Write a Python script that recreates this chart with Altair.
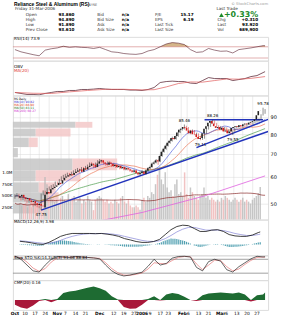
import altair as alt
import pandas as pd

FONT = "DejaVu Sans"
PW = 257
XDOM = [-1, 125.5]

# ---------------- daily price data (Oct 3 2005 .. Mar 31 2006, 125 sessions) ----------------
OPEN = [52.0, 52.5, 53.0, 52.0, 51.5, 51.8, 51.0, 50.5, 50.8, 50.0,
        49.5, 49.8, 49.2, 48.6, 53.2, 54.0, 53.6, 55.0, 55.5, 56.0,
        56.6, 57.5, 57.2, 58.5, 59.6, 60.0, 60.5, 61.0, 60.6, 61.5,
        62.0, 62.5, 63.0, 62.0, 63.5, 63.0, 64.0, 64.5, 65.5, 65.0,
        64.0, 65.5, 66.5, 67.0, 66.0, 65.5, 65.0, 66.0, 65.5, 64.5,
        65.0, 64.0, 64.5, 63.5, 64.0, 63.0, 63.5, 63.0, 62.5, 62.0,
        62.5, 61.5, 61.0, 61.5, 62.0, 61.2, 62.5, 63.5, 64.0, 65.5,
        66.0, 67.0, 66.5, 69.0, 71.0, 72.5, 74.0, 75.5, 76.5, 78.0,
        77.5, 79.0, 81.0, 82.5, 83.0, 84.0, 83.5, 82.0, 80.5, 82.0,
        80.0, 80.0, 78.5, 77.5, 78.0, 80.5, 83.0, 84.5, 86.5, 87.5,
        86.0, 84.5, 83.5, 84.0, 82.5, 83.5, 81.5, 82.0, 80.5, 81.5,
        83.5, 84.0, 84.5, 84.0, 85.0, 84.5, 85.5, 86.0, 85.5, 86.5,
        87.0, 87.5, 88.5, 91.0, 93.86]
CLOSE = [52.5, 53.0, 52.0, 51.5, 51.8, 51.0, 50.5, 50.8, 50.0, 49.5,
         49.8, 49.2, 49.0, 53.0, 54.0, 53.5, 55.0, 55.5, 56.0, 56.5,
         57.5, 57.0, 58.5, 59.5, 60.0, 60.5, 61.0, 60.5, 61.5, 62.0,
         62.5, 63.0, 62.0, 63.5, 63.0, 64.0, 64.5, 65.5, 65.0, 64.0,
         65.5, 66.5, 67.0, 66.0, 65.5, 65.0, 66.0, 65.5, 64.5, 65.0,
         64.0, 64.5, 63.5, 64.0, 63.0, 63.5, 63.0, 62.5, 62.0, 62.5,
         61.5, 61.0, 61.5, 62.0, 61.2, 62.5, 63.5, 64.0, 65.5, 66.0,
         67.0, 66.5, 69.0, 71.0, 72.5, 74.0, 75.5, 76.5, 78.0, 77.5,
         79.0, 81.0, 82.5, 83.0, 84.0, 83.5, 82.0, 80.5, 82.0, 80.0,
         80.0, 78.5, 77.5, 78.0, 80.5, 83.0, 84.5, 86.5, 87.5, 86.0,
         84.5, 83.5, 84.0, 82.5, 83.5, 81.5, 82.0, 80.5, 81.5, 83.5,
         84.0, 84.5, 84.0, 85.0, 84.5, 85.5, 86.0, 85.5, 86.5, 87.0,
         87.5, 88.5, 91.0, 93.61, 93.92]
HIGH = [53.2, 53.6, 53.4, 52.4, 52.3, 52.0, 51.4, 51.3, 51.0, 50.4,
        50.3, 50.0, 49.6, 53.5, 54.6, 54.5, 55.5, 56.1, 56.6, 57.0,
        58.0, 58.0, 59.0, 60.1, 60.7, 61.1, 61.6, 61.5, 62.0, 62.6,
        63.1, 63.6, 63.3, 64.0, 64.0, 64.5, 65.1, 66.0, 66.1, 65.4,
        66.0, 67.1, 67.6, 67.3, 66.5, 66.0, 66.5, 66.6, 65.8, 65.6,
        65.3, 65.0, 64.8, 64.6, 64.3, 64.0, 63.9, 63.4, 62.9, 63.0,
        62.8, 61.9, 62.0, 62.6, 62.3, 63.0, 64.0, 64.6, 66.0, 66.6,
        67.6, 67.4, 69.6, 71.6, 73.1, 74.7, 76.1, 77.2, 78.7, 78.6,
        79.6, 81.6, 83.1, 83.8, 85.46, 84.7, 84.0, 82.4, 82.6, 82.3,
        80.8, 80.4, 79.0, 78.6, 81.0, 83.5, 85.0, 87.2, 88.26, 87.9,
        86.4, 85.0, 84.6, 84.3, 84.0, 83.8, 82.6, 82.3, 82.0, 84.0,
        84.6, 85.1, 85.0, 85.6, 85.5, 86.0, 86.6, 86.5, 87.0, 87.6,
        88.1, 89.0, 91.6, 95.78, 94.89]
LOW = [51.6, 52.2, 51.7, 51.0, 51.1, 50.7, 50.0, 50.1, 49.6, 49.0,
       49.1, 48.7, 48.4, 47.75, 52.8, 53.0, 53.3, 54.6, 55.0, 55.6,
       56.2, 56.5, 56.9, 58.2, 59.1, 59.6, 60.1, 60.0, 60.3, 61.1,
       61.6, 62.1, 61.6, 61.8, 62.6, 62.7, 63.6, 64.2, 64.6, 63.6,
       63.7, 65.2, 66.1, 65.6, 65.0, 64.6, 64.7, 65.0, 64.0, 64.1,
       63.6, 63.6, 63.0, 63.1, 62.6, 62.6, 62.5, 62.0, 61.6, 61.6,
       61.1, 60.5, 60.6, 61.1, 60.8, 60.9, 62.1, 63.1, 63.7, 65.1,
       65.6, 65.0, 66.2, 68.6, 70.6, 72.0, 73.6, 75.0, 76.1, 77.0,
       77.1, 78.6, 80.6, 82.0, 82.6, 83.0, 81.5, 80.0, 80.1, 79.5,
       79.3, 78.0, 76.8, 77.0, 77.6, 80.2, 82.6, 84.1, 86.0, 85.5,
       84.0, 83.0, 83.1, 82.0, 82.1, 81.0, 81.0, 80.0, 79.55, 81.2,
       83.1, 83.6, 83.6, 83.7, 84.0, 84.2, 85.1, 85.0, 85.2, 86.1,
       86.6, 87.1, 88.2, 90.8, 91.89]
VOLUME = [350, 300, 330, 360, 260, 300, 260, 330, 350, 380,
          300, 350, 420, 900, 750, 500, 460, 420, 380, 420,
          340, 460, 500, 420, 380, 540, 420, 460, 500, 380,
          420, 460, 340, 420, 380, 500, 420, 380, 200, 420,
          460, 500, 460, 420, 380, 420, 340, 380, 340, 420,
          380, 340, 460, 500, 380, 340, 420, 300, 260, 260,
          300, 260, 210, 420, 460, 380, 500, 460, 580, 540,
          750, 950, 1100, 850, 750, 1000, 680, 580, 620, 500,
          750, 850, 540, 580, 500, 1000, 540, 460, 680, 580,
          500, 460, 420, 500, 540, 680, 460, 500, 420, 460,
          420, 380, 420, 380, 460, 420, 500, 460, 420, 380,
          420, 460, 420, 380, 420, 460, 380, 420, 380, 340,
          420, 460, 500, 560, 690]

MA200_IDX = [0, 30, 63, 94, 124]
MA200 = [40.0, 43.0, 47.0, 52.6, 60.27]

# volume-by-price zones
VBP_LO = [83.6, 78.8, 73.3, 68.4, 62.6, 58.1, 53.9, 50.3, 46.7]
VBP_HI = [87.0, 83.1, 78.2, 72.8, 67.8, 62.6, 57.7, 53.9, 50.0]
VBP_UP = [63, 23, 16, 5, 60, 23, 26, 33, 18]
VBP_DN = [17, 35, 9, 0, 45, 45, 17, 13, 10]

# trend lines (session index, price)
TL_I = [[13, 125.5], [90, 125.5], [94, 123]]
TL_P = [[47.75, 81.5], [73.0, 88.5], [88.26, 88.26]]

# price annotations
ANN_I = [13, 84, 98, 92, 108, 123]
ANN_P = [47.75, 85.46, 88.26, 76.8, 79.55, 95.78]
ANN_T = ["47.75", "85.46", "88.26", "79.11", "79.55", "95.78"]
ANN_POS = ["below", "above", "above", "below", "below", "above"]

# ---------------- indicators (every third session) ----------------
IDX3 = list(range(0, 125, 3)) + [124]
RSI = [60, 52, 47, 42, 38, 58, 63, 66, 72, 68, 70, 68, 67, 64, 68, 60, 52, 50, 46, 44,
       43, 46, 55, 60, 70, 80, 85, 83, 78, 60, 50, 52, 64, 58, 54, 55, 48, 60, 63, 66,
       70, 74, 73.9]
OBV = [0.0, -0.5, -1.0, -1.0, -1.2, -0.5, 0.0, 0.5, 0.5, 1.0, 1.0, 1.5, 1.5, 1.7, 2.0,
       1.7, 1.5, 1.5, 1.5, 1.2, 1.2, 1.0, 1.5, 2.5, 5.0, 5.5, 5.7, 5.5, 5.5, 4.7, 4.5,
       6.0, 7.5, 7.0, 7.0, 7.0, 6.0, 6.5, 7.0, 8.0, 8.5, 10.0, 10.5]
OBV_MA_IDX = [0, 9, 18, 27, 36, 45, 54, 63, 69, 75, 81, 87, 93, 99, 105, 111, 117, 124]
OBV_MA = [0.0, -0.4, -0.5, 0.3, 1.0, 1.6, 1.6, 1.3, 1.4, 2.8, 4.5, 5.3, 5.2, 6.0, 6.8,
          6.7, 7.1, 8.0]
MACD = [0.7, 0.55, 0.35, 0.1, 0.0, 0.45, 1.1, 1.8, 2.2, 2.45, 2.45, 2.45, 2.45, 2.4,
        2.45, 2.3, 2.1, 1.8, 1.3, 1.0, 0.65, 0.45, 0.45, 0.65, 1.1, 2.2, 3.3, 4.0, 4.3,
        4.2, 3.55, 2.9, 2.9, 3.2, 3.3, 2.9, 2.2, 1.9, 1.8, 1.8, 2.1, 2.65, 2.8]
MACD_SIG = [0.8, 0.7, 0.55, 0.4, 0.25, 0.25, 0.5, 0.9, 1.4, 1.8, 2.1, 2.3, 2.4, 2.4,
            2.45, 2.4, 2.3, 2.1, 1.8, 1.5, 1.2, 0.9, 0.7, 0.65, 0.8, 1.3, 2.0, 2.8, 3.4,
            3.8, 3.8, 3.5, 3.2, 3.2, 3.2, 3.1, 2.8, 2.45, 2.2, 2.0, 2.0, 2.2, 2.3]
# daily MACD histogram
MACD_HIST = [-0.10, -0.12, -0.13, -0.15, -0.17, -0.18, -0.20, -0.24, -0.27, -0.30,
             -0.30, -0.28, -0.25, -0.10, 0.05, 0.20, 0.35, 0.48, 0.60, 0.70,
             0.80, 0.90, 0.88, 0.85, 0.80, 0.75, 0.70, 0.65, 0.55, 0.45,
             0.35, 0.28, 0.20, 0.15, 0.10, 0.07, 0.05, 0.03, 0.01, 0.00,
             0.02, 0.03, 0.00, -0.03, -0.06, -0.10, -0.13, -0.17, -0.20, -0.23,
             -0.27, -0.30, -0.37, -0.44, -0.50, -0.50, -0.50, -0.50, -0.52, -0.54,
             -0.55, -0.52, -0.48, -0.45, -0.38, -0.32, -0.25, -0.17, -0.08, 0.00,
             0.10, 0.20, 0.30, 0.50, 0.70, 0.90, 1.05, 1.18, 1.30, 1.28,
             1.25, 1.20, 1.10, 1.00, 0.90, 0.75, 0.58, 0.40, 0.18, -0.03,
             -0.25, -0.38, -0.50, -0.60, -0.50, -0.40, -0.30, -0.20, -0.10, 0.00,
             0.04, 0.07, 0.10, 0.00, -0.10, -0.20, -0.35, -0.48, -0.60, -0.58,
             -0.56, -0.55, -0.50, -0.45, -0.40, -0.33, -0.27, -0.20, -0.10, 0.00,
             0.10, 0.22, 0.34, 0.45, 0.50]
STO_K = [94, 80, 55, 30, 25, 55, 80, 92, 90, 88, 92, 90, 88, 86, 82, 55, 30, 15, 8, 12,
         18, 24, 50, 80, 55, 62, 85, 92, 93, 90, 45, 30, 70, 80, 72, 35, 25, 48, 65, 82,
         93, 90, 91.06]
STO_D = [92, 86, 68, 42, 28, 40, 68, 86, 91, 89, 90, 90, 88, 86, 84, 65, 40, 22, 12, 11,
         15, 21, 38, 65, 62, 60, 75, 88, 92, 91, 60, 35, 55, 76, 75, 48, 30, 38, 58, 75,
         88, 90, 88.84]
CMF = [-0.10, -0.16, -0.19, -0.12, -0.02, 0.02, -0.05, 0.02, 0.15, 0.18, 0.20, 0.23,
       0.26, 0.29, 0.25, 0.20, 0.08, 0.01, -0.15, -0.19, -0.18, -0.10, 0.02, 0.08, -0.01,
       0.12, 0.15, 0.13, 0.07, 0.0, -0.02, 0.10, 0.14, 0.15, 0.16, 0.15, 0.14, 0.16, 0.12,
       -0.03, 0.10, 0.12, 0.16]

# ---------------- axis ticks ----------------
GRID_IDX = [0, 5, 10, 15, 21, 25, 30, 35, 42, 49, 54, 59, 63, 67, 72, 76, 83, 86, 91,
            96, 102, 105, 110, 115, 120]
GRID_LAB = ["Oct", "10", "17", "24", "Nov", "7", "14", "21", "Dec", "12", "19", "27",
            "2006", "9", "17", "23", "Feb", "6", "13", "21", "Mar", "6", "13", "20", "27"]
MONTH_IDX = [0, 21, 42, 63, 83, 102]

GRIDC = "#d9d9d9"

price = pd.DataFrame({"i": list(range(len(CLOSE))), "o": OPEN, "c": CLOSE, "h": HIGH,
                      "l": LOW, "v": VOLUME})


def xs():
    return alt.Scale(domain=XDOM, nice=False, zero=False)


def xgrid():
    return alt.Axis(values=GRID_IDX, grid=True, gridColor=GRIDC, gridWidth=0.5,
                    labels=False, ticks=False, domain=False, title=None)


def yright(values, labexpr=None):
    kw = dict(orient="right", values=values, grid=True, gridColor=GRIDC, gridWidth=0.5,
              ticks=False, domain=False, title=None, labelFont=FONT, labelFontSize=5,
              labelPadding=2, labelColor="#000", minExtent=12, maxExtent=12)
    if labexpr:
        kw["labelExpr"] = labexpr
    return alt.Axis(**kw)


def txt(s, x, y, size=4.6, color="#000", weight="normal", align="left", font=FONT):
    return alt.Chart(pd.DataFrame({"t": [s]})).mark_text(
        align=align, baseline="middle", font=font, fontSize=size, color=color,
        fontWeight=weight).encode(x=alt.value(x), y=alt.value(y), text="t:N")


# ---------------- header ----------------
OX = 11  # chart x of plot origin
hdr_layers = [
    txt("Reliance Steel & Aluminum (RS)", 12 - OX, 3, 5.0, weight="bold",
        font="Liberation Sans"),
    txt("NYSE", 87 - OX, 3.5, 3.4, "#555"),
    txt("Friday 31-Mar-2006", 13 - OX, 8, 4.2, "#333"),
    txt("\u00a9 StockCharts.com", 268 - OX, 2.5, 3.8, "#999", align="right"),
]
rows_y = [14, 19, 24, 29]
c1 = ["Open", "High", "Low", "Prev Close"]
v1 = ["93.860", "94.890", "91.890", "93.610"]
c2 = ["Bid", "Bid Size", "Ask", "Ask Size"]
v2 = ["n/a", "n/a", "n/a", "n/a"]
c3 = ["P/E", "EPS", "Last Tick", "Last Size"]
v3 = ["15.17", "6.19", "", ""]
c4 = ["", "Chg", "Last", "Vol"]
v4 = ["", "+0.310", "93.920", "689,900"]
for k, y in enumerate(rows_y):
    hdr_layers += [
        txt(c1[k], 24 - OX, y, 4.2, "#333"),
        txt(v1[k], 73 - OX, y, 4.2, weight="bold", align="right"),
        txt(c2[k], 96 - OX, y, 4.2, "#333"),
        txt(v2[k], 128 - OX, y, 4.2, weight="bold", align="right"),
        txt(c3[k], 154 - OX, y, 4.2, "#333"),
    ]
    if v3[k]:
        hdr_layers.append(txt(v3[k], 193 - OX, y, 4.2, weight="bold", align="right"))
    if c4[k]:
        hdr_layers.append(txt(c4[k], 217 - OX, y, 4.2, "#333"))
        hdr_layers.append(txt(v4[k], 258 - OX, y, 4.2, weight="bold", align="right"))
hdr_layers += [
    txt("Last Trade", 216 - OX, 7.5, 4.2, "#333"),
    alt.Chart(pd.DataFrame({"t": ["up"]})).mark_point(
        shape="triangle-up", filled=True, color="#1a8a2a", size=22, opacity=1).encode(
        x=alt.value(221 - OX), y=alt.value(14)),
    txt("+0.33%", 258 - OX, 13.5, 8, "#1a8a2a", weight="bold", align="right"),
]
header = alt.layer(*hdr_layers).properties(
    width=PW, height=36, view=alt.ViewBackground(stroke=None))

# ---------------- RSI panel ----------------
rsi_df = pd.DataFrame({"i": IDX3, "v": RSI})
RSI_DOM = [20.4, 105.4]
rsi_y = alt.Scale(domain=RSI_DOM, nice=False, zero=False)
rsi_base = alt.Chart(rsi_df)
rsi_fill = rsi_base.transform_calculate(top="max(datum.v, 70)").mark_area(
    color="#c9a26b", opacity=0.8, clip=True).encode(
    x=alt.X("i:Q", scale=xs(), axis=xgrid()),
    y=alt.Y("top:Q", scale=rsi_y, axis=yright([30, 50, 70])),
    y2=alt.datum(70))
rsi_rules = alt.Chart(pd.DataFrame({"lv": [70, 30]})).mark_rule(
    color="#d07a7a", strokeWidth=0.6).encode(y=alt.Y("lv:Q", scale=rsi_y, axis=None))
rsi_line = rsi_base.mark_line(color="#5a2030", strokeWidth=0.6, clip=True).encode(
    x=alt.X("i:Q", scale=xs(), axis=None), y=alt.Y("v:Q", scale=rsi_y, axis=None))
rsi = alt.layer(rsi_fill, rsi_rules, rsi_line, txt("RSI(14) 73.9", 1, 2.5, 4.2)).properties(
    width=PW, height=24)

# ---------------- OBV panel ----------------
OBV_DOM = [-1.5, 16]
obv_y = alt.Scale(domain=OBV_DOM, nice=False, zero=False)
obv_line = alt.Chart(pd.DataFrame({"i": IDX3, "v": OBV})).mark_line(
    color="#4a1020", strokeWidth=0.7).encode(
    x=alt.X("i:Q", scale=xs(), axis=xgrid()),
    y=alt.Y("v:Q", scale=obv_y, axis=yright([0, 5, 10], "''")))
obv_ma = alt.Chart(pd.DataFrame({"i": OBV_MA_IDX, "v": OBV_MA})).mark_line(
    color="#e05a5a", strokeWidth=0.7).encode(
    x=alt.X("i:Q", scale=xs(), axis=None), y=alt.Y("v:Q", scale=obv_y, axis=None))
obv = alt.layer(obv_line, obv_ma, txt("OBV", 1, 6, 4.2),
                txt("MA(20)", 1, 10.5, 4.2, "#e03030")).properties(width=PW, height=35)

# ---------------- main price panel ----------------
P_DOM = [44.8, 104.1]
py = alt.Scale(type="log", domain=P_DOM, nice=False, zero=False)
V_DOM = [0, 2630]

vbp_df = pd.DataFrame({"lo": VBP_LO, "hi": VBP_HI, "up": VBP_UP, "dn": VBP_DN})
vbp_x = alt.Scale(domain=[0, PW], nice=False, zero=False)
vbp_up = alt.Chart(vbp_df).mark_bar(color="#c6c6c6", opacity=0.85).encode(
    x=alt.X("z:Q", scale=vbp_x, axis=None), x2="up:Q",
    y=alt.Y("lo:Q", scale=py, axis=None), y2="hi:Q").transform_calculate(z="0")
vbp_dn = alt.Chart(vbp_df).transform_calculate(end="datum.up + datum.dn").mark_bar(
    color="#f3c8c8", opacity=0.85).encode(
    x=alt.X("up:Q", scale=vbp_x, axis=None), x2="end:Q",
    y=alt.Y("lo:Q", scale=py, axis=None), y2="hi:Q")

vol_lab = ("datum.value >= 1000 ? format(datum.value/1000, '.1f') + 'M' : "
           "datum.value + 'K'")
vol = alt.Chart(price).transform_calculate(
    dir="datum.c >= datum.o ? 'up' : 'dn'").mark_bar(size=1.5, opacity=0.8).encode(
    x=alt.X("i:Q", scale=xs(), axis=xgrid()),
    y=alt.Y("v:Q", scale=alt.Scale(domain=V_DOM, nice=False),
            axis=alt.Axis(orient="left", values=[250, 500, 750, 1000], labelExpr=vol_lab,
                          ticks=False, domain=False, grid=False, title=None, labelFont=FONT,
                          labelFontSize=4.2, labelPadding=1, minExtent=11, maxExtent=11,
                          labelColor="#000")),
    color=alt.Color("dir:N", scale=alt.Scale(domain=["up", "dn"],
                                             range=["#b9b9b9", "#eeb4b4"]), legend=None))
vol_ma = alt.Chart(price).transform_window(
    m="mean(v)", frame=[-49, 0], sort=[alt.SortField("i")]).mark_line(
    color="#8a2a2a", strokeWidth=0.7).encode(
    x=alt.X("i:Q", scale=xs(), axis=None),
    y=alt.Y("m:Q", scale=alt.Scale(domain=V_DOM, nice=False), axis=None))

cand = alt.Chart(price).transform_calculate(dir="datum.c >= datum.o ? 'up' : 'dn'")
cscale = alt.Scale(domain=["up", "dn"], range=["#222222", "#d42020"])
wick = cand.mark_rule(strokeWidth=0.5).encode(
    x=alt.X("i:Q", scale=xs(), axis=None),
    y=alt.Y("l:Q", scale=py, axis=yright([50, 60, 70, 80, 90])), y2="h:Q",
    color=alt.Color("dir:N", scale=cscale, legend=None))
body = cand.mark_bar(size=1.6).encode(
    x=alt.X("i:Q", scale=xs(), axis=None),
    y=alt.Y("o:Q", scale=py, axis=None), y2="c:Q",
    color=alt.Color("dir:N", scale=cscale, legend=None))


def ma_line(n, color):
    return alt.Chart(price).transform_window(
        m="mean(c)", frame=[-(n - 1), 0], sort=[alt.SortField("i")]).mark_line(
        color=color, strokeWidth=0.6, clip=True).encode(
        x=alt.X("i:Q", scale=xs(), axis=None), y=alt.Y("m:Q", scale=py, axis=None))


ma200 = alt.Chart(pd.DataFrame({"i": MA200_IDX, "m": MA200})).mark_line(
    color="#e060e0", strokeWidth=0.8, clip=True).encode(
    x=alt.X("i:Q", scale=xs(), axis=None), y=alt.Y("m:Q", scale=py, axis=None))

tl_rows = []
for k in range(len(TL_I)):
    for j in range(2):
        tl_rows.append({"g": k, "i": TL_I[k][j], "p": TL_P[k][j]})
tlines = alt.Chart(pd.DataFrame(tl_rows)).mark_line(
    color="#2233bb", strokeWidth=1.4, clip=True).encode(
    x=alt.X("i:Q", scale=xs(), axis=None), y=alt.Y("p:Q", scale=py, axis=None),
    detail="g:N")

ann = pd.DataFrame({"i": ANN_I, "p": ANN_P, "t": ANN_T, "pos": ANN_POS})
ann_up = alt.Chart(ann).transform_filter("datum.pos == 'above'").mark_text(
    font=FONT, fontSize=4.0, dy=-4, color="#000").encode(
    x=alt.X("i:Q", scale=xs(), axis=None), y=alt.Y("p:Q", scale=py, axis=None), text="t:N")
ann_dn = alt.Chart(ann).transform_filter("datum.pos == 'below'").mark_text(
    font=FONT, fontSize=4.0, dy=5, color="#000").encode(
    x=alt.X("i:Q", scale=xs(), axis=None), y=alt.Y("p:Q", scale=py, axis=None), text="t:N")

main = alt.layer(
    vbp_up, vbp_dn, vol, vol_ma, ma200, ma_line(50, "#2a8a2a"), ma_line(20, "#e8603a"),
    ma_line(10, "#3a4ad8"), tlines, wick, body, ann_up, ann_dn,
    txt("RS Daily", 1, 3.2, 3.0),
    txt("MA(10) 90.82", 1, 6.4, 3.0, "#3030d0"),
    txt("MA(20) 88.90", 1, 9.6, 3.0, "#e04020"),
    txt("MA(50) 83.11", 1, 12.8, 3.0, "#207020"),
    txt("MA(200) 60.27", 1, 16.0, 3.0, "#d030d0"),
).resolve_scale(x="independent", y="independent", color="independent").properties(
    width=PW, height=125)

# ---------------- MACD panel ----------------
macd_df = pd.DataFrame({"i": IDX3, "m": MACD, "s": MACD_SIG})
hist_df = pd.DataFrame({"i": list(range(len(MACD_HIST))), "h": MACD_HIST})
M_DOM = [-2.44, 5.56]
my = alt.Scale(domain=M_DOM, nice=False, zero=False)
hist = alt.Chart(hist_df).mark_bar(size=1.2, color="#4f9fb0").encode(
    x=alt.X("i:Q", scale=xs(), axis=xgrid()),
    y=alt.Y("h:Q", scale=my, axis=yright([0, 2, 4])), y2=alt.datum(0))
macd_l = alt.Chart(macd_df).mark_line(color="#111", strokeWidth=0.8).encode(
    x=alt.X("i:Q", scale=xs(), axis=None), y=alt.Y("m:Q", scale=my, axis=None))
sig_l = alt.Chart(macd_df).mark_line(color="#7070d0", strokeWidth=0.6).encode(
    x=alt.X("i:Q", scale=xs(), axis=None), y=alt.Y("s:Q", scale=my, axis=None))
macd = alt.layer(hist, sig_l, macd_l, txt("MACD(12,26,9) 3.98", 1, 2.5, 4.0)).properties(
    width=PW, height=36)

# ---------------- Slow STO panel ----------------
sto_df = pd.DataFrame({"i": IDX3, "k": STO_K, "d": STO_D})
S_DOM = [-10, 97.2]
sy = alt.Scale(domain=S_DOM, nice=False, zero=False)
sto_r = alt.Chart(pd.DataFrame({"lv": [80, 20]})).mark_rule(
    color="#8a8a8a", strokeWidth=0.8).encode(
    x=alt.value(0), x2=alt.value(PW),
    y=alt.Y("lv:Q", scale=sy, axis=yright([20, 50, 80])))
sto_d = alt.Chart(sto_df).mark_line(color="#e06060", strokeWidth=0.6).encode(
    x=alt.X("i:Q", scale=xs(), axis=xgrid()), y=alt.Y("d:Q", scale=sy, axis=None))
sto_k = alt.Chart(sto_df).mark_line(color="#222", strokeWidth=0.7).encode(
    x=alt.X("i:Q", scale=xs(), axis=None), y=alt.Y("k:Q", scale=sy, axis=None))
sto = alt.layer(sto_r, sto_d, sto_k,
                txt("Slow STO %K(14,3)/D(3) 91.06 88.84", 1, 2.5, 4.0)).properties(
    width=PW, height=25)

# ---------------- CMF panel ----------------
CH = 30
cmf_df = pd.DataFrame({"i": IDX3, "v": CMF})
C_DOM = [-0.213, 0.4255]
cy = alt.Scale(domain=C_DOM, nice=False, zero=False)
cmf_pos = alt.Chart(cmf_df).transform_calculate(pv="max(datum.v, 0)").mark_area(
    color="#1e6b32").encode(
    x=alt.X("i:Q", scale=xs(), axis=xgrid()),
    y=alt.Y("pv:Q", scale=cy,
            axis=yright([-0.1, 0, 0.1, 0.2, 0.3], "format(datum.value*100, '.0f')")),
    y2=alt.datum(0))
cmf_neg = alt.Chart(cmf_df).transform_calculate(nv="min(datum.v, 0)").mark_area(
    color="#a8183a").encode(
    x=alt.X("i:Q", scale=xs(), axis=None), y=alt.Y("nv:Q", scale=cy, axis=None),
    y2=alt.datum(0))
xl_df = pd.DataFrame({"i": GRID_IDX, "t": GRID_LAB,
                      "m": [g in MONTH_IDX for g in GRID_IDX]})
xl_norm = alt.Chart(xl_df).transform_filter("!datum.m").mark_text(
    font=FONT, fontSize=4.4, baseline="middle", color="#000").encode(
    x=alt.X("i:Q", scale=xs(), axis=None), y=alt.value(CH + 4), text="t:N")
xl_bold = alt.Chart(xl_df).transform_filter("datum.m").mark_text(
    font=FONT, fontSize=4.4, baseline="middle", fontWeight="bold", color="#000").encode(
    x=alt.X("i:Q", scale=xs(), axis=None), y=alt.value(CH + 4), text="t:N")
cmf = alt.layer(cmf_pos, cmf_neg, xl_norm, xl_bold,
                txt("CMF(20) 0.16", 1, 2.5, 4.0)).properties(width=PW, height=CH)

chart = alt.vconcat(header, rsi, obv, main, macd, sto, cmf, spacing=0,
                    bounds="flush").properties(padding=0).configure_view(
    stroke="#9a9a9a", strokeWidth=0.6).configure(background="white")

chart.save("out.html", embed_options={"renderer": "svg", "actions": False})
